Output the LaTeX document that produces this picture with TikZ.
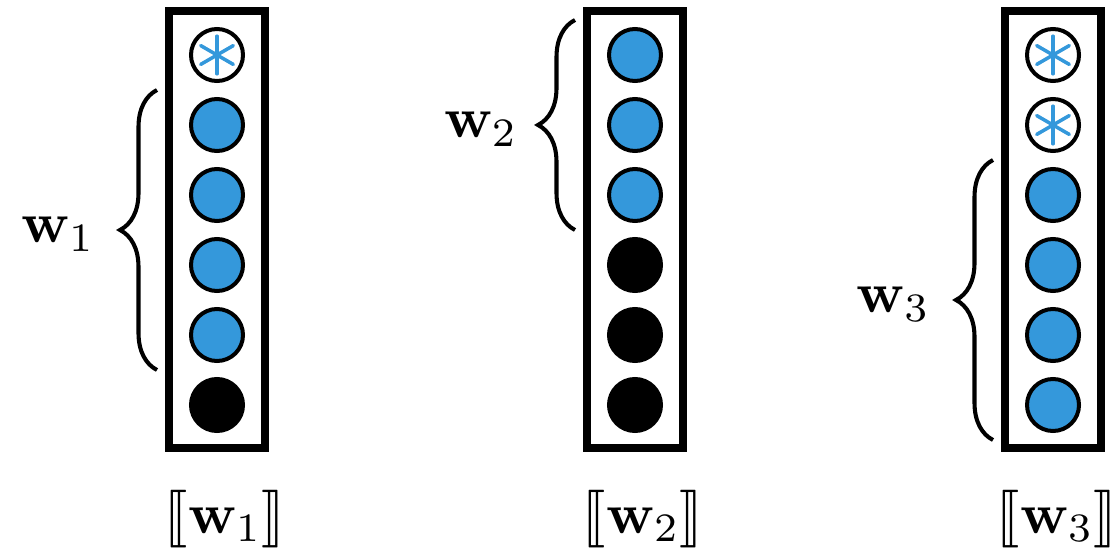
\documentclass[tikz,border=0pt]{standalone}
\usepackage{amsmath,amssymb}
\usepackage{stmaryrd}
\usetikzlibrary{positioning,calc,decorations.pathreplacing}
\definecolor{wblue}{RGB}{52,152,219}
% large maths for the labels
\newcommand{\wtxt}[1]{\scalebox{4.1}{$#1$}}

\begin{document}
\begin{tikzpicture}[
  vecbox/.style={draw,line width=5.3pt,minimum width=2.4cm,minimum height=10.925cm,inner sep=0pt},
  entry/.style={circle,draw,line width=2.85pt,minimum size=1.3cm,inner sep=0pt},
  active/.style={entry,fill=wblue},
  masked/.style={entry,fill=black},
  padded/.style={entry,fill=white},
  asterisk/.style={wblue,line width=2.5pt,line cap=round},
  wbrace/.style={decorate,decoration={brace,amplitude=0.925cm},line width=2.9pt},
  wlabel/.style={inner sep=0pt}]
\useasboundingbox (0,0) rectangle (27.95,-13.95);
% the three weight vectors
\node[vecbox] (box1) at (5.425,-5.7375) {};
\node[vecbox] (box2) at (15.875,-5.7375) {};
\node[vecbox] (box3) at (26.325,-5.7375) {};
% entries, top to bottom
\foreach \t [count=\i] in {padded,active,active,active,active,masked}
  \node[\t] (a\i) at (5.425,{-1.375-1.75*(\i-1)}) {};
\foreach \t [count=\i] in {active,active,active,masked,masked,masked}
  \node[\t] (b\i) at (15.875,{-1.375-1.75*(\i-1)}) {};
\foreach \t [count=\i] in {padded,padded,active,active,active,active}
  \node[\t] (c\i) at (26.325,{-1.375-1.75*(\i-1)}) {};
% padding marks
\foreach \n in {a1,c1,c2}
  \foreach \a in {30,90,...,330}
    \draw[asterisk] (\n.center) -- ++(\a:0.47);
% braces over the used part of each vector
\draw[wbrace] ($(a5)+(-1.5,-0.875)$) -- ($(a2)+(-1.5,0.875)$)
  node[wlabel,midway,left=1.5cm,yshift=-0.1cm] (w1) {\wtxt{\mathbf{w}_1}};
\draw[wbrace] ($(b3)+(-1.5,-0.875)$) -- ($(b1)+(-1.5,0.875)$)
  node[wlabel,midway,left=1.38cm,yshift=-0.1cm] (w2) {\wtxt{\mathbf{w}_2}};
\draw[wbrace] ($(c6)+(-1.5,-0.875)$) -- ($(c3)+(-1.5,0.875)$)
  node[wlabel,midway,left=1.52cm,yshift=-0.1cm] (w3) {\wtxt{\mathbf{w}_3}};
% encoded vectors
\node[wlabel,below=0.95cm of box1,xshift=0.2cm] (enc1) {\wtxt{\llbracket\mathbf{w}_1\rrbracket}};
\node[wlabel,below=0.95cm of box2,xshift=0.2cm] (enc2) {\wtxt{\llbracket\mathbf{w}_2\rrbracket}};
\node[wlabel,below=0.95cm of box3,xshift=0.1cm] (enc3) {\wtxt{\llbracket\mathbf{w}_3\rrbracket}};
\end{tikzpicture}
\end{document}
